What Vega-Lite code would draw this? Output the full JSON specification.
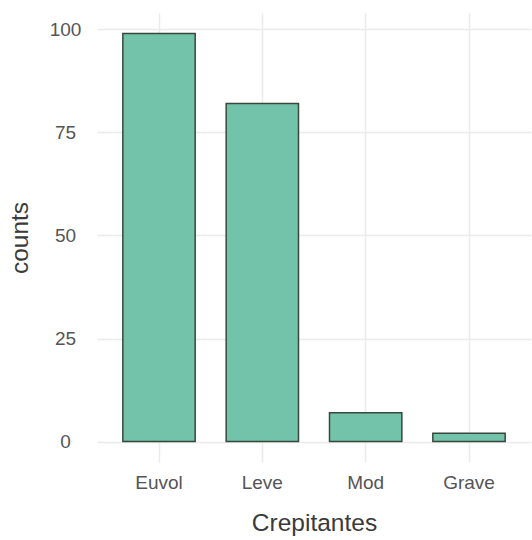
{
  "$schema": "https://vega.github.io/schema/vega-lite/v6.json",
  "autosize": {"type": "none"},
  "width": 434,
  "height": 449,
  "padding": {"left": 97, "top": 13, "right": 1, "bottom": 78},
  "background": "white",
  "data": {
    "values": [
      {"Crepitantes": "Euvol", "counts": 99},
      {"Crepitantes": "Leve", "counts": 82},
      {"Crepitantes": "Mod", "counts": 7},
      {"Crepitantes": "Grave", "counts": 2}
    ]
  },
  "mark": {"type": "bar", "fill": "#73c2aa", "stroke": "#38483f", "strokeWidth": 1.5, "clip": true},
  "encoding": {
    "x": {
      "field": "Crepitantes",
      "type": "nominal",
      "sort": ["Euvol", "Leve", "Mod", "Grave"],
      "scale": {"paddingInner": 0.3, "paddingOuter": 0.25},
      "axis": {
        "title": "Crepitantes",
        "labelAngle": 0,
        "grid": true,
        "bandPosition": 0.5,
        "ticks": false,
        "tickSize": 0,
        "domain": false,
        "labelPadding": 11,
        "labelFontSize": 19,
        "labelColor": "#555555",
        "labelFont": "Liberation Sans",
        "titleFont": "Liberation Sans",
        "titleFontSize": 24.5,
        "titleFontWeight": "normal",
        "titleColor": "#3a3a3a",
        "titleBaseline": "alphabetic",
        "titleY": 68
      }
    },
    "y": {
      "field": "counts",
      "type": "quantitative",
      "scale": {"domain": [-4.95, 103.95], "nice": false, "zero": false},
      "axis": {
        "title": "counts",
        "values": [0, 25, 50, 75, 100],
        "grid": true,
        "ticks": false,
        "tickSize": 0,
        "domain": false,
        "labelAlign": "center",
        "labelPadding": 32,
        "labelFontSize": 19,
        "labelColor": "#555555",
        "labelFont": "Liberation Sans",
        "titleFont": "Liberation Sans",
        "titleFontSize": 24.5,
        "titleFontWeight": "normal",
        "titleColor": "#3a3a3a",
        "titleBaseline": "alphabetic",
        "titleX": -70
      }
    },
    "y2": {"datum": 0}
  },
  "config": {
    "view": {"stroke": null},
    "axis": {"gridColor": "#ebebeb", "gridWidth": 1.5, "gridOpacity": 1}
  }
}
